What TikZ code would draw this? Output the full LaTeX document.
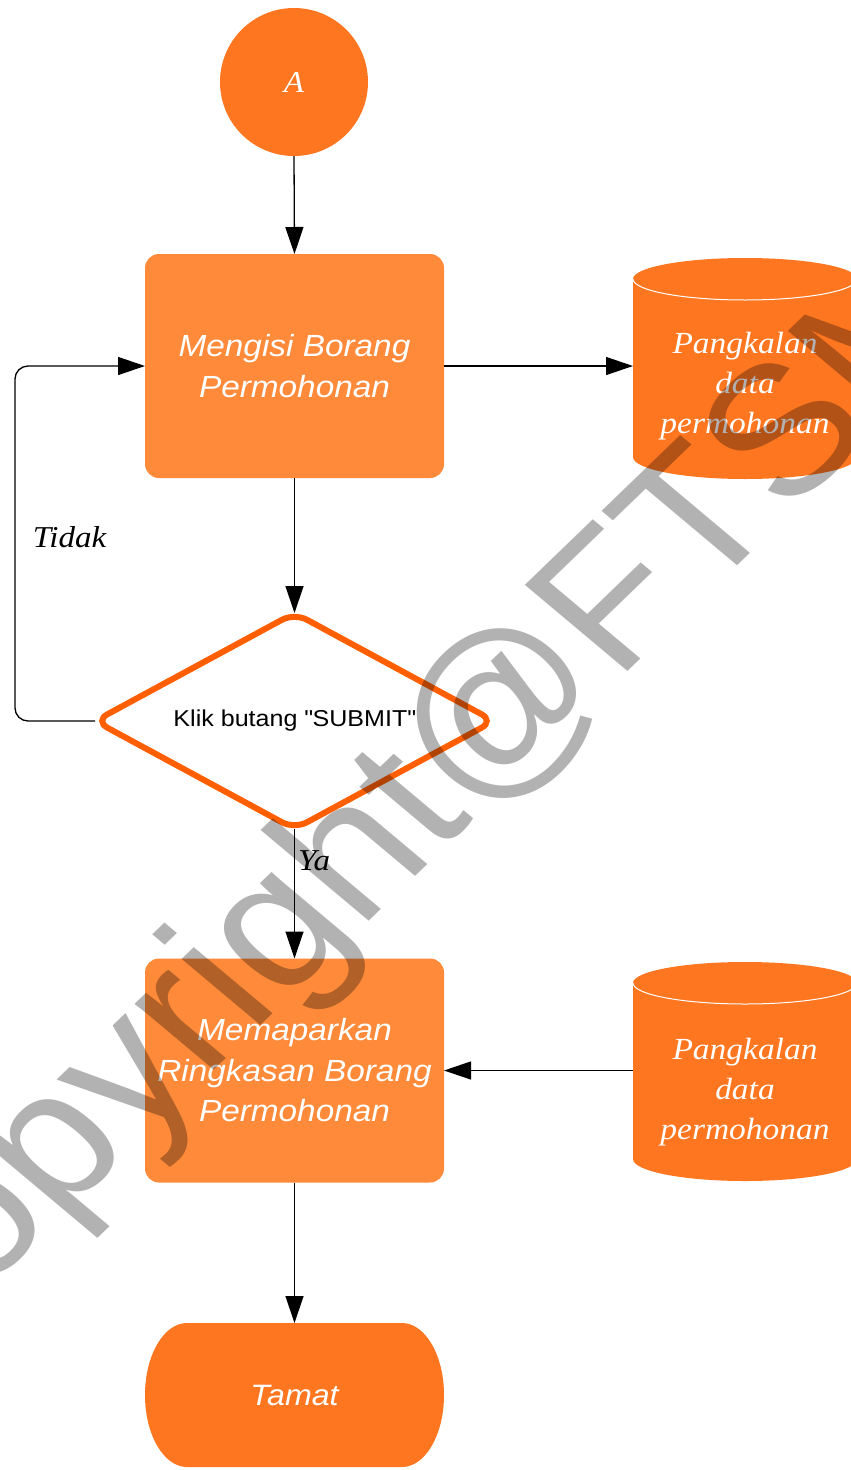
\documentclass[tikz,border=0pt]{standalone}
\usepackage{fontspec}
\setmainfont[FakeStretch=1.09]{Liberation Serif}
\setsansfont[FakeStretch=1.09]{Liberation Sans}
\newfontfamily\wmfont{Liberation Sans}
\usetikzlibrary{arrows.meta,shapes.geometric}
\definecolor{orA}{HTML}{FF7620}
\definecolor{orB}{HTML}{FE8A3A}
\definecolor{orD}{HTML}{FF5F00}
\begin{document}
\begin{tikzpicture}[x=1pt,y=-1pt,
  arr/.style={draw=black, line width=1.3pt, -{Triangle[length=27pt,width=18pt]}},
  procbox/.style={rectangle, rounded corners=14pt, fill=orB, minimum width=299pt, minimum height=224pt, inner sep=0pt, outer sep=0pt, text=white, align=center, font=\sffamily\itshape\fontsize{30.6}{40.5}\selectfont},
  dbtext/.style={rectangle, inner sep=0pt, outer sep=0pt, minimum width=224pt, text=white, align=center, font=\itshape\fontsize{30.7}{40}\selectfont},
  dbline/.style={draw=white, line width=1pt},
  lbl/.style={inner sep=0pt, text=black, font=\itshape\fontsize{30.3}{40}\selectfont},
  wmark/.style={inner sep=0pt, text=black, text opacity=0.3, font=\wmfont\fontsize{204}{204}\selectfont}]
\useasboundingbox (0,0) rectangle (851,1470);
\clip (0,0) rectangle (851,1470);
\fill[white] (0,0) rectangle (851,1470);

% start circle
\node[circle, fill=orA, minimum size=148pt, inner sep=0pt, outer sep=0pt, text=white, font=\itshape\fontsize{30.3}{40}\selectfont] (startA) at (294,82) {A};

% process 1
\node[procbox] (box1) at (294.5,366) {Mengisi Borang\\Permohonan};

% database 1
\fill[orA] (633,279) -- (633,457) arc[start angle=180,end angle=0,x radius=112,y radius=22] -- (857,279) arc[start angle=0,end angle=-180,x radius=112,y radius=21] -- cycle;
\draw[dbline] (633,279) arc[start angle=180,end angle=0,x radius=112,y radius=21];
\node[dbtext] (db1) at (745,386) {Pangkalan\\data\\permohonan};

% decision
\node[diamond, draw=orD, line width=6pt, rounded corners=14pt, fill=white, minimum width=399pt, minimum height=216pt, inner sep=0pt, outer sep=0pt, aspect=1.85, text=black, font=\sffamily\fontsize{23}{28}\selectfont] (dec) at (294.5,721) {Klik butang \textquotedbl SUBMIT\textquotedbl};

% process 2
\node[procbox] (box2) at (294.5,1070.5) {Memaparkan\\Ringkasan Borang\\Permohonan};

% database 2
\fill[orA] (633,983) -- (633,1159) arc[start angle=180,end angle=0,x radius=112,y radius=22] -- (857,983) arc[start angle=0,end angle=-180,x radius=112,y radius=21] -- cycle;
\draw[dbline] (633,983) arc[start angle=180,end angle=0,x radius=112,y radius=21];
\node[dbtext] (db2) at (745,1092) {Pangkalan\\data\\permohonan};

% end terminator
\fill[orA] (187,1323) -- (402,1323) arc[start angle=-90,end angle=0,x radius=42,y radius=72] arc[start angle=0,end angle=90,x radius=42,y radius=72] -- (187,1467) arc[start angle=90,end angle=180,x radius=42,y radius=72] arc[start angle=180,end angle=270,x radius=42,y radius=72] -- cycle;
\node[rectangle, minimum width=299pt, minimum height=144pt, inner sep=0pt, outer sep=0pt, text=white, font=\sffamily\itshape\fontsize{29.5}{38}\selectfont] (tamat) at (294.5,1395) {Tamat};

% connectors
\coordinate (loopc) at (15,721);
\draw[arr] (startA.south) -- (box1.north);
\draw[arr] (box1.east) -- (box1.east -| db1.west);
\draw[arr] (box1.south) -- (dec.north);
\draw[arr, rounded corners=13pt] (dec.west) -- (loopc) |- (box1.west);
\draw[arr] (dec.south) -- (box2.north);
\draw[arr] (db2.west |- box2.east) -- (box2.east);
\draw[arr] (box2.south) -- (tamat.north);

% labels
\node[lbl, anchor=base] (tidak) at (69.5,547) {Tidak};
\node[lbl, anchor=base west] (ya) at (298,870) {Ya};

% watermark (rotated, image squashed vertically)
\begin{scope}[shift={(-120,1393)}, yscale=0.9]
\node[wmark, transform shape, rotate=47, anchor=base west] (wm) at (0,0) {Copyright@FTSM};
\end{scope}
\end{tikzpicture}
\end{document}
